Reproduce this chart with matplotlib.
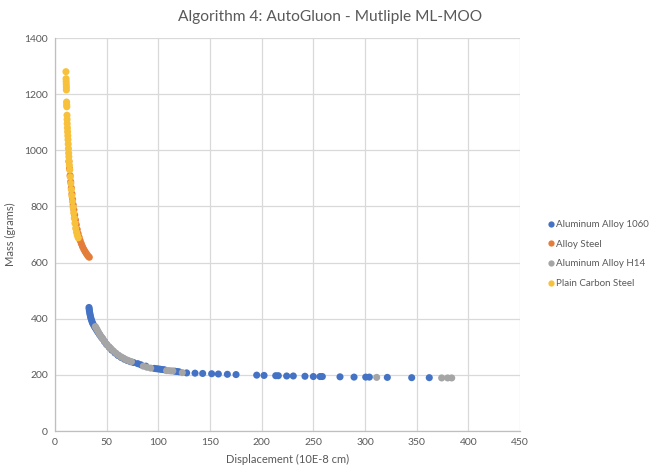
import matplotlib

matplotlib.use("Agg")
import matplotlib.pyplot as plt
from matplotlib.lines import Line2D

# Aluminum Alloy 1060 (blue)
al1060_x = [32.9, 33.1, 33.3, 33.6, 34.0, 34.4, 34.9, 35.5, 36.2, 37.0, 38.0, 39.0, 40.2, 41.5,
            43.0, 44.5, 46.0, 48.0, 50.0, 52.5, 55.0, 58.0, 61.0, 64.0, 67.0, 70.0, 73.0, 76.0,
            80.0, 83.0, 88.0, 96.0, 98.0, 100.0, 102.0, 104.0, 106.0, 116.0, 118.0, 120.0,
            127.4, 135.5, 142.9, 151.6, 158.1, 166.8, 175.2, 195.2, 202.3, 213.6, 216.1, 224.2,
            230.6, 241.9, 250.0, 256.5, 258.7, 275.8, 289.4, 300.7, 304.2, 321.6, 345.2, 362.2]
al1060_y = [440, 434, 428, 421, 414, 407, 400, 393, 386, 380, 373, 367, 360, 352,
            344, 336, 329, 318, 308, 298, 288, 278, 269, 262, 256, 251, 247, 244,
            240, 236, 231, 223, 222, 221, 220, 219, 218, 213, 212, 211,
            207, 206, 205, 204, 203, 202, 201, 199, 198, 197, 197, 196,
            196, 195, 194, 194, 194, 193, 192, 192, 192, 191, 190, 190]

# Alloy Steel (orange)
steel_x = [13.5, 14.0, 14.6, 15.2, 15.8, 16.4, 17.0, 17.6, 18.3, 19.0, 19.8, 20.6, 21.5, 22.4,
           23.4, 24.4, 25.5, 26.6, 27.8, 29.0, 30.2, 31.3, 32.3, 33.2]
steel_y = [960, 935, 910, 888, 866, 845, 825, 806, 788, 770, 752, 735, 718, 703,
           690, 678, 667, 657, 648, 640, 633, 627, 622, 619]

# Aluminum Alloy H14 (gray)
h14_x = [39.0, 40.0, 41.0, 42.2, 43.5, 45.0, 46.5, 48.0, 50.0, 52.0, 54.0, 56.5, 59.0, 61.5,
         64.0, 66.5, 69.0, 71.5, 74.0, 85.5, 89.0, 92.6, 108.0, 110.0, 112.0, 114.0, 123.2,
         311.3, 374.2, 380.0, 383.9]
h14_y = [372, 366, 359, 351, 343, 334, 327, 319, 309, 301, 294, 285, 277, 270,
         264, 259, 254, 250, 247, 231, 227, 224, 215, 215, 214, 214, 208,
         191, 189, 189, 189]

# Plain Carbon Steel (yellow)
carbon_x = [10.6, 10.7, 10.8, 10.9, 11.0, 11.0, 11.2, 11.3, 11.4, 11.6, 11.7, 11.8, 12.0, 12.2,
            12.4, 12.6, 12.8, 13.0, 13.2, 13.4, 13.6, 13.9, 14.3, 14.8, 15.3, 15.8, 16.3, 16.9,
            17.5, 18.1, 18.7, 19.3, 20.0, 20.8, 21.6, 22.5]
carbon_y = [1280, 1255, 1245, 1235, 1225, 1215, 1172, 1162, 1155, 1125, 1110, 1095, 1080, 1066,
            1052, 1038, 1022, 1006, 990, 977, 962, 947, 930, 905, 882, 860, 838, 818,
            797, 777, 758, 740, 722, 708, 697, 688]

series = [
    ("Aluminum Alloy 1060", al1060_x, al1060_y, "#4472C4"),
    ("Alloy Steel", steel_x, steel_y, "#E57D3A"),
    ("Aluminum Alloy H14", h14_x, h14_y, "#A5A5A5"),
    ("Plain Carbon Steel", carbon_x, carbon_y, "#F8C13C"),
]

text_color = "#595959"
plt.rcParams["font.family"] = ["Lato", "DejaVu Sans"]

fig = plt.figure(figsize=(6.53, 4.73), dpi=100)
ax = fig.add_axes([55 / 653, 1 - 431 / 473, 465 / 653, 393 / 473])

for name, xs, ys, color in series:
    ax.scatter(xs, ys, s=26, color=color, edgecolors="none", zorder=3)

ax.set_xlim(0, 450)
ax.set_ylim(0, 1400)
ax.set_xticks(range(0, 451, 50))
ax.set_yticks(range(0, 1401, 200))
ax.grid(True, color="#D9D9D9", linewidth=0.9)
ax.set_axisbelow(True)
for side in ["top", "right"]:
    ax.spines[side].set_visible(False)
for side in ["left", "bottom"]:
    ax.spines[side].set_color("#BFBFBF")
    ax.spines[side].set_linewidth(0.9)
ax.tick_params(length=0, colors=text_color, labelsize=7.5, pad=5)

ax.set_xlabel("Displacement (10E-8 cm)", fontsize=8, color=text_color, labelpad=5)
ax.set_ylabel("Mass (grams)", fontsize=8, color=text_color, labelpad=6)
fig.suptitle("Algorithm 4: AutoGluon - Mutliple ML-MOO", x=0.506, y=0.978,
             fontsize=11.2, color=text_color)

handles = [Line2D([], [], linestyle="none", marker="o", markersize=4.5,
                  markerfacecolor=c, markeredgecolor="none", label=n)
           for n, _, _, c in series]
fig.legend(handles=handles, loc="center left", bbox_to_anchor=(0.830, 0.463),
           frameon=False, fontsize=7, labelcolor=text_color, handletextpad=0.0,
           handlelength=1.0, labelspacing=1.1, borderaxespad=0)

fig.savefig("out.png", dpi=100)
